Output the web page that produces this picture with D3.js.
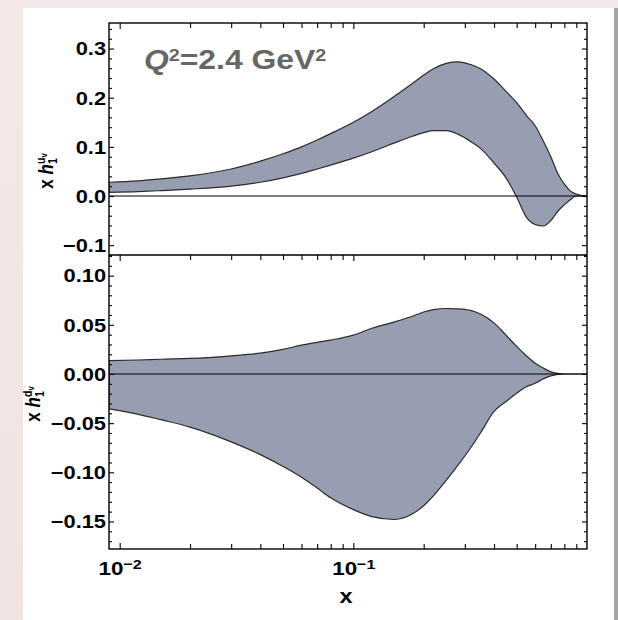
<!DOCTYPE html>
<html><head><meta charset="utf-8">
<script src="https://cdn.jsdelivr.net/npm/d3@7"></script>
<style>html,body{margin:0;padding:0;background:#f3e6e7;overflow:hidden}svg{display:block}</style>
</head><body><svg id="c" width="618" height="620"></svg>
<script>
// ---- data ----
const xValues = [0.009,0.012,0.015,0.02,0.03,0.04,0.05,0.06,0.07,0.08,0.1,0.12,0.15,0.18,0.2,0.22,0.25,0.28,0.32,0.35,0.4,0.45,0.5,0.55,0.6,0.65,0.7,0.75,0.8,0.85,0.9,0.95,1.0];
const uvUpper = [0.028,0.031,0.035,0.041,0.055,0.071,0.086,0.100,0.114,0.127,0.150,0.172,0.203,0.230,0.246,0.259,0.270,0.273,0.267,0.259,0.238,0.213,0.190,0.164,0.143,0.112,0.080,0.046,0.024,0.010,0.004,0.001,0.0];
const uvLower = [0.0075,0.009,0.011,0.014,0.020,0.028,0.037,0.046,0.055,0.063,0.077,0.090,0.108,0.122,0.129,0.133,0.133,0.126,0.110,0.097,0.067,0.037,-0.002,-0.043,-0.058,-0.061,-0.050,-0.031,-0.018,-0.007,0.0,0.0,0.0];
const dvUpper = [0.0135,0.0142,0.0150,0.0158,0.0185,0.0212,0.0250,0.0293,0.0322,0.0345,0.0395,0.0465,0.0530,0.0590,0.0630,0.0655,0.0666,0.0662,0.0645,0.0610,0.0520,0.0395,0.0280,0.0185,0.0110,0.0060,0.0022,0.0006,0.0,0.0,0.0,0.0,0.0];
const dvLower = [-0.0355,-0.041,-0.0465,-0.054,-0.069,-0.082,-0.094,-0.105,-0.116,-0.126,-0.138,-0.145,-0.148,-0.142,-0.134,-0.124,-0.108,-0.093,-0.074,-0.060,-0.038,-0.028,-0.0195,-0.013,-0.0095,-0.005,-0.002,-0.0005,0.0,0.0,0.0,0.0,0.0];

const yTicksTop = [-0.1,0,0.1,0.2,0.3];
const yTickLabelsTop = ["\u22120.1","0.0","0.1","0.2","0.3"];
const yMinorTop = [-0.12,-0.08,-0.06,-0.04,-0.02,0.02,0.04,0.06,0.08,0.12,0.14,0.16,0.18,0.22,0.24,0.26,0.28,0.32,0.34];
const yTicksBottom = [-0.15,-0.10,-0.05,0,0.05,0.10];
const yTickLabelsBottom = ["\u22120.15","\u22120.10","\u22120.05","0.00","0.05","0.10"];
const yMinorBottom = [-0.17,-0.16,-0.14,-0.13,-0.12,-0.11,-0.09,-0.08,-0.07,-0.06,-0.04,-0.03,-0.02,-0.01,0.01,0.02,0.03,0.04,0.06,0.07,0.08,0.09,0.11,0.12];
const xMajorTicks = [0.01, 0.1];
const xTickExponents = ["\u22122","\u22121"];
const xMinorTicks = [0.02,0.03,0.04,0.05,0.06,0.07,0.08,0.09,0.2,0.3,0.4,0.5,0.6,0.7,0.8,0.9];
const titleText = "=2.4 GeV";

// ---- layout ----
const SX = 1.18; // horizontal stretch of the lettering
const L = 109, R = 587, T1 = 23, B1 = 255, T2 = 255, B2 = 549;
const FONT = "'Liberation Sans', Arial, sans-serif";
const svg = d3.select("#c");

// background
const defs = svg.append("defs");
const lg = defs.append("linearGradient").attr("id","bg").attr("x1","0").attr("y1","0").attr("x2","0").attr("y2","1");
lg.append("stop").attr("offset","0").attr("stop-color","#f4e8e9");
lg.append("stop").attr("offset","1").attr("stop-color","#f1e3e4");
svg.append("rect").attr("width",618).attr("height",620).attr("fill","url(#bg)");
svg.append("rect").attr("x",23).attr("y",8).attr("width",591).attr("height",612).attr("fill","#ffffff");
svg.append("rect").attr("x",614).attr("y",8).attr("width",4).attr("height",612).attr("fill","#a4a4a4");

const x = d3.scaleLog().domain([0.009, 1.0]).range([L, R]);
const yTop = d3.scaleLinear().domain([-0.12, 0.352]).range([B1, T1]);
const yBot = d3.scaleLinear().domain([-0.178, 0.121]).range([B2, T2]);

defs.append("clipPath").attr("id","cp1").append("rect").attr("x",L).attr("y",T1).attr("width",R-L).attr("height",B1-T1);
defs.append("clipPath").attr("id","cp2").append("rect").attr("x",L).attr("y",T2).attr("width",R-L).attr("height",B2-T2);

function band(y, lo, hi, clip) {
  const data = xValues.map((v,i)=>({x:v, lo:lo[i], hi:hi[i]}));
  const area = d3.area().x(d=>x(d.x)).y0(d=>y(d.lo)).y1(d=>y(d.hi)).curve(d3.curveMonotoneX);
  const g = svg.append("g").attr("clip-path",`url(#${clip})`);
  g.append("path").datum(data).attr("d",area)
    .attr("fill","#989eb1").attr("stroke","#2b2b2b").attr("stroke-width",1.2).attr("stroke-linejoin","round");
  g.append("line").attr("x1",L).attr("x2",R).attr("y1",y(0)).attr("y2",y(0)).attr("stroke","#000").attr("stroke-width",1.2);
}
band(yTop, uvLower, uvUpper, "cp1");
band(yBot, dvLower, dvUpper, "cp2");

function styleAxis(g){ g.select(".domain").remove(); g.selectAll(".tick line").attr("stroke","#000").attr("stroke-width",1.1); }

function yAxes(y, major, labels, minor){
  const gl = svg.append("g").attr("transform",`translate(${L},0)`)
    .call(d3.axisLeft(y).tickValues(major).tickSize(-5).tickPadding(3).tickFormat((d,i)=>labels[i]));
  styleAxis(gl);
  gl.selectAll(".tick text").attr("font-family",FONT).attr("font-weight","bold").attr("font-size",18.5)
    .attr("fill","#000").attr("x",-3/SX).attr("dy","0.34em").attr("transform",`scale(${SX},1)`);
  styleAxis(svg.append("g").attr("transform",`translate(${L},0)`)
    .call(d3.axisLeft(y).tickValues(minor).tickSize(-3).tickFormat("")));
  styleAxis(svg.append("g").attr("transform",`translate(${R},0)`)
    .call(d3.axisRight(y).tickValues(major).tickSize(-5).tickFormat("")));
  styleAxis(svg.append("g").attr("transform",`translate(${R},0)`)
    .call(d3.axisRight(y).tickValues(minor).tickSize(-3).tickFormat("")));
}
yAxes(yTop, yTicksTop, yTickLabelsTop, yMinorTop);
yAxes(yBot, yTicksBottom, yTickLabelsBottom, yMinorBottom);

// ticks hanging down from the top edge of each panel
[T1, T2].forEach(yPos => {
  styleAxis(svg.append("g").attr("transform",`translate(0,${yPos})`)
    .call(d3.axisTop(x).tickValues(xMajorTicks).tickSize(-6).tickFormat("")));
  styleAxis(svg.append("g").attr("transform",`translate(0,${yPos})`)
    .call(d3.axisTop(x).tickValues(xMinorTicks).tickSize(-5).tickFormat("")));
});

// bottom axis with labels
const gb = svg.append("g").attr("transform",`translate(0,${B2})`)
  .call(d3.axisBottom(x).tickValues(xMajorTicks).tickSize(-6).tickPadding(13).tickFormat(""));
styleAxis(gb);
gb.selectAll(".tick text").each(function(d,i){
  const t = d3.select(this);
  t.attr("font-family",FONT).attr("font-weight","bold").attr("font-size",19).attr("fill","#000")
   .attr("transform",`scale(${SX},1)`).attr("x",0);
  t.append("tspan").text("10");
  t.append("tspan").attr("dy","-0.5em").attr("font-size","0.72em").text(xTickExponents[i]);
});
styleAxis(svg.append("g").attr("transform",`translate(0,${B2})`)
  .call(d3.axisBottom(x).tickValues(xMinorTicks).tickSize(-5).tickFormat("")));

// frame
svg.append("rect").attr("x",L).attr("y",T1).attr("width",R-L).attr("height",B2-T1)
  .attr("fill","none").attr("stroke","#000").attr("stroke-width",1.4);
svg.append("line").attr("x1",L).attr("x2",R).attr("y1",B1).attr("y2",B1).attr("stroke","#000").attr("stroke-width",1.4);

// x axis title
svg.append("text").attr("transform",`translate(346,603) scale(${SX},1)`).attr("text-anchor","middle")
  .attr("font-family",FONT).attr("font-weight","bold").attr("font-size",20).text("x");

// y axis titles
function ylab(cx, cy, sup){
  const t = svg.append("text").attr("transform",`translate(${cx},${cy}) rotate(-90) scale(1,${SX})`)
    .attr("text-anchor","middle").attr("font-family",FONT).attr("font-weight","bold").attr("font-size",17).attr("fill","#000")
    .attr("dy","0.35em");
  t.append("tspan").text("x ");
  t.append("tspan").attr("font-style","italic").text("h");
  t.append("tspan").attr("font-size","0.62em").attr("dy","0.3em").text("1");
  t.append("tspan").attr("font-size","0.62em").attr("dx","-0.55em").attr("dy","-0.95em").text(sup);
  t.append("tspan").attr("font-size","0.45em").attr("dy","0.25em").text("v");
}
ylab(46, 171, "u");
ylab(33, 404, "d");

// Q^2 label
const q = svg.append("text").attr("transform",`translate(144,69) scale(${SX},1)`)
  .attr("font-family",FONT).attr("font-weight","bold").attr("font-size",27).attr("fill","#666666");
q.append("tspan").attr("font-style","italic").text("Q");
q.append("tspan").attr("font-size","0.62em").attr("dy","-0.5em").text("2");
q.append("tspan").attr("dy","0.31em").text(titleText);
q.append("tspan").attr("font-size","0.62em").attr("dy","-0.5em").text("2");
</script>
</body></html>
